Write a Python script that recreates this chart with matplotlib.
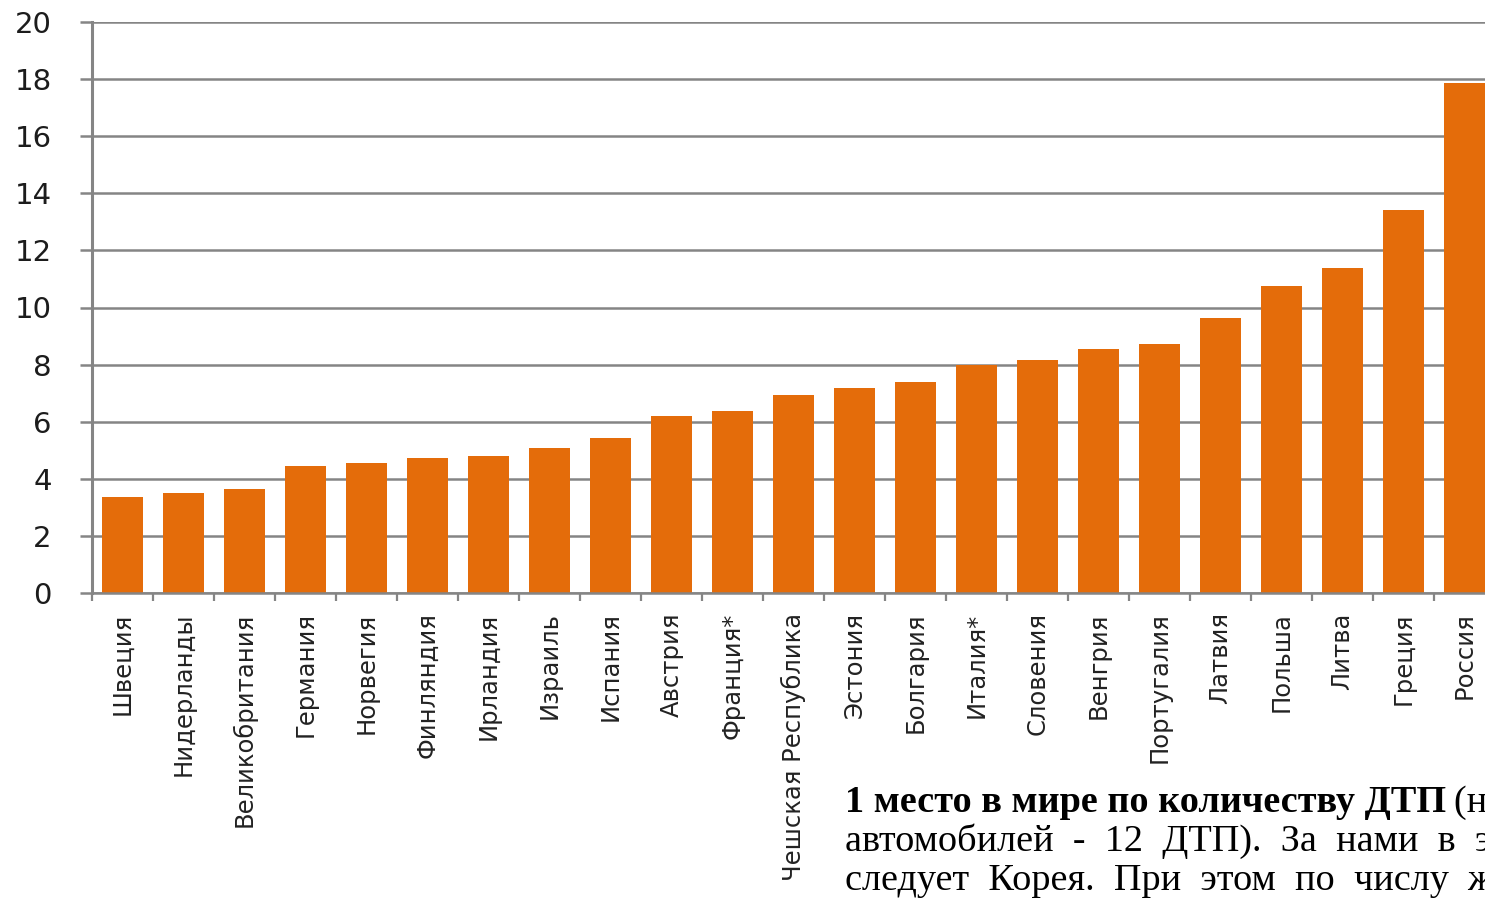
import matplotlib
matplotlib.use("Agg")
import matplotlib.pyplot as plt
import numpy as np

countries = ["Швеция", "Нидерланды", "Великобритания", "Германия", "Норвегия",
             "Финляндия", "Ирландия", "Израиль", "Испания", "Австрия", "Франция*",
             "Чешская Республика", "Эстония", "Болгария", "Италия*", "Словения",
             "Венгрия", "Португалия", "Латвия", "Польша", "Литва", "Греция", "Россия"]
values = [3.36, 3.5, 3.64, 4.45, 4.55, 4.73, 4.8, 5.08, 5.43, 6.2, 6.37,
          6.94, 7.18, 7.39, 7.99, 8.16, 8.55, 8.72, 9.63, 10.75, 11.38, 13.41, 17.86]
yticks = [0, 2, 4, 6, 8, 10, 12, 14, 16, 18, 20]

W, H = 1485, 907
fig = plt.figure(figsize=(W / 100, H / 100), dpi=100)
fig.patch.set_facecolor("white")

left_px, right_px, top_px, bot_px = 92, 1495, 22, 593
ax = fig.add_axes([left_px / W, (H - bot_px) / H, (right_px - left_px) / W, (bot_px - top_px) / H])

grid_c = "#858585"
x = np.arange(len(countries))
ax.bar(x, values, width=0.67, color="#E46C0A", zorder=3)

ax.set_xlim(-0.5, len(countries) - 0.5)
ax.set_ylim(0, 20)
ax.set_yticks(yticks)
ax.set_yticklabels([str(v) for v in yticks], fontsize=21, color="#1c1c1c",
                   family="DejaVu Sans")
ax.yaxis.grid(True, color=grid_c, linewidth=1.8, zorder=0)
ax.tick_params(axis="y", length=9, width=1.8, color=grid_c, pad=20)

ax.set_xticks(x)
ax.set_xticklabels(countries, rotation=90, fontsize=17.5, color="#222222",
                   family="DejaVu Sans", va="top", ha="center")
ax.tick_params(axis="x", which="major", length=0, pad=14)
ax.set_xticks(np.arange(-0.5, len(countries) + 0.5, 1), minor=True)
ax.tick_params(axis="x", which="minor", length=6, width=1.6, color=grid_c)

for s in ["top", "right"]:
    ax.spines[s].set_visible(False)
ax.spines["left"].set_color(grid_c)
ax.spines["left"].set_linewidth(2.2)
ax.spines["bottom"].set_color(grid_c)
ax.spines["bottom"].set_linewidth(1.8)
ax.spines["left"].set_zorder(4)
ax.spines["bottom"].set_zorder(4)

# overlay text (serif, bottom right) – cut at the right edge as in the reference
serif = "Liberation Serif"
fs = 27.5
t1 = fig.text(845 / W, 1 - 812 / H, "1 место в мире по количеству ДТП", fontsize=fs,
              family=serif, weight="bold", color="black", va="baseline", ha="left")
fig.canvas.draw()
bb = t1.get_window_extent()
fig.text((bb.x1 + 8) / W, 1 - 812 / H, "(на 10 тыс.", fontsize=fs, family=serif,
         color="black", va="baseline", ha="left")
fig.text(845 / W, 1 - 851 / H, "автомобилей  -  12  ДТП).  За  нами  в  этом",
         fontsize=fs, family=serif, color="black", va="baseline", ha="left")
fig.text(845 / W, 1 - 890 / H, "следует  Корея.  При  этом  по  числу  жертв",
         fontsize=fs, family=serif, color="black", va="baseline", ha="left")

fig.savefig("out.png", dpi=100, facecolor="white")
